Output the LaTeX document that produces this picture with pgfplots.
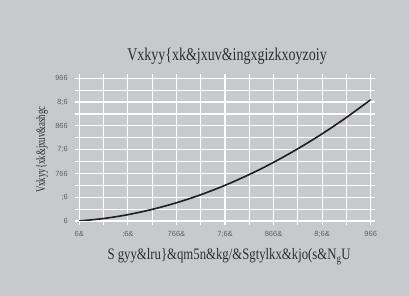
\documentclass[border=0pt]{standalone}
\usepackage{fontspec}
\setmainfont{Liberation Serif}
\newfontfamily\ticksf{Liberation Sans}
\usepackage{graphicx}
\usepackage{pgfplots}
\pgfplotsset{compat=1.18}
\definecolor{bg}{RGB}{200,201,204}
\definecolor{tickc}{RGB}{95,95,95}
\definecolor{txt}{RGB}{45,45,45}
\definecolor{curve}{RGB}{30,30,30}
\begin{document}
\begin{tikzpicture}
\useasboundingbox[fill=bg] (0,0) rectangle (409bp,296bp);
\begin{axis}[
  at={(79.3bp,75bp)}, anchor=south west,
  scale only axis, width=291.4bp, height=142.7bp,
  xmin=0, xmax=300, ymin=0, ymax=300,
  xtick={0,50,...,300}, ytick={0,50,...,300},
  minor x tick num=1, minor y tick num=1,
  xticklabels={6\&,;6\&,766\&,7;6\&,866\&,8;6\&,966},
  yticklabels={6,;6,766,7;6,866,8;6,966},
  grid=both,
  grid style={white, line width=1.2bp},
  major grid style={white, line width=1.2bp},
  minor grid style={white, line width=1.2bp},
  axis line style={draw=none},
  tick align=outside, tick pos=both,
  major tick length=4bp, minor tick length=4bp,
  tick style={white, line width=1.2bp},
  ticklabel style={font=\ticksf\fontsize{7.5}{8}\selectfont, text=tickc},
  xticklabel pos=bottom, yticklabel pos=left,
  xticklabel style={yshift=-2.5bp},
  yticklabel style={xshift=-4bp},
  title={\scalebox{0.78}[1]{Vxkyy\{xk\&jxuv\&ingxgizkxoyzoiy}},
  title style={at={(axis description cs:0.507,1.114)}, anchor=center, font=\fontsize{18}{20}\selectfont, text=txt},
  xlabel={\scalebox{0.8}[1]{S gyy\&lru\}\&qm5n\&kg/\&Sgtylkx\&kjo(s\&N\textsubscript{g}U}},
  xlabel style={at={(axis description cs:0.514,-0.252)}, anchor=center, font=\fontsize{16}{18}\selectfont, text=txt},
  ylabel={\scalebox{0.68}[1]{Vxkyy\{xk\&jxuv\&ashgc}},
  ylabel style={at={(axis description cs:-0.128,0.5)}, anchor=center, rotate=0, font=\fontsize{13}{15}\selectfont, text=txt},
]
\addplot[curve, line width=1.6bp, smooth] coordinates {
(0,0) (25,5.2) (50,13.3) (75,24.4) (100,38.3) (125,55.2) (150,75)
(175,97.7) (200,123.3) (225,151.9) (250,183.3) (275,217.7) (300,255)
};
\end{axis}
\end{tikzpicture}
\end{document}
